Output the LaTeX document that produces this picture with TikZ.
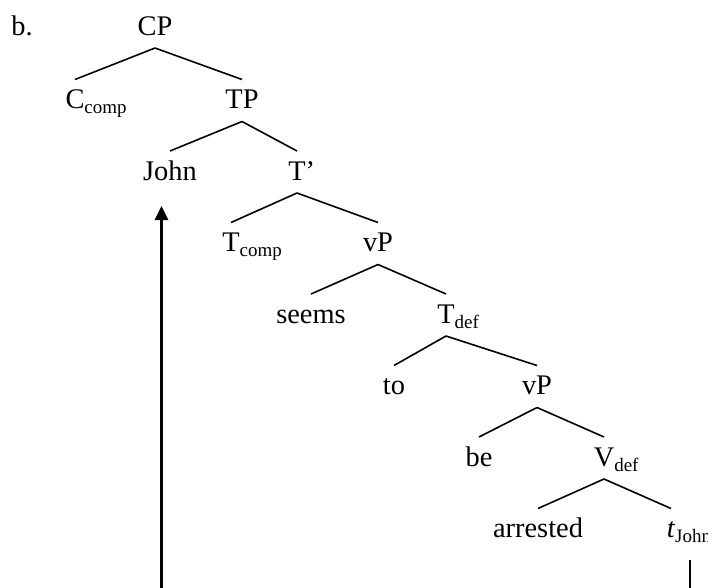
\documentclass[tikz,border=0pt]{standalone}
\usepackage{fontspec}
\setmainfont{Liberation Serif}
\usetikzlibrary{arrows.meta, calc}
\newcommand{\subtag}[1]{\rlap{\raisebox{-5pt}{\fontsize{19}{20}\selectfont #1}}}

\begin{document}
\begin{tikzpicture}[x=1pt, y=-1pt,
  word/.style={anchor=base, inner sep=0pt, font=\fontsize{28.4}{34}\selectfont},
  branch/.style={line width=1.6pt},
  move/.style={line width=2.6pt}]
  \useasboundingbox (0,0) rectangle (708,587);
  \clip (0,0) rectangle (708,587);

  % Label
  \node[word] (lab) at (22, 35) {b.};

  % Tree
  \node[word] (cp) at (155, 35) {CP};
  \node[word] (ccomp) at (75, 108.5) {C\subtag{comp}};
  \node[word] (tp) at (242, 108.5) {TP};
  \node[word] (john) at (170, 180) {John};
  \node[word] (tbar) at (297, 180) {T\rlap{'}};
  \node[word] (tcomp) at (231, 251.5) {T\subtag{comp}};
  \node[word] (vpa) at (378, 251.5) {vP};
  \node[word] (seems) at (311, 323) {seems};
  \node[word] (tdef) at (446, 323) {T\subtag{def}};
  \node[word] (to) at (394, 394.5) {to};
  \node[word] (vpb) at (537, 394.5) {vP};
  \node[word] (be) at (479, 466) {be};
  \node[word] (vdef) at (604, 466) {V\subtag{def}};
  \node[word] (arr) at (538, 537.5) {arrested};
  \node[word] (trace) at (671, 537.5) {\textit{t}\subtag{John}};

  \foreach \p/\c in {cp/ccomp, cp/tp, tp/john, tp/tbar, tbar/tcomp, tbar/vpa,
    vpa/seems, vpa/tdef, tdef/to, tdef/vpb, vpb/be, vpb/vdef, vdef/arr, vdef/trace}
    \draw[branch] ([yshift=-13pt]\p.base) -- ([yshift=29pt]\c.base);

  % Movement
  \coordinate (tstub) at (690, 560);
  \coordinate (low) at (161.5, 600);
  \draw[move] (tstub) |- (low);
  \draw[move, -{Triangle[length=14pt, width=13pt]}, shorten >=26pt] (low) -- (low |- john.base);
\end{tikzpicture}
\end{document}
